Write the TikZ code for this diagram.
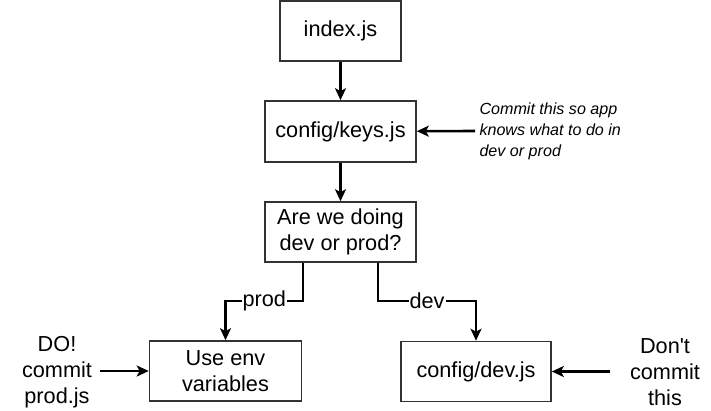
\documentclass[tikz,border=0pt]{standalone}
\usepackage{fontspec}
\setmainfont{Liberation Sans}[Ligatures=TeXOff]
\usetikzlibrary{arrows.meta}

\begin{document}
\begin{tikzpicture}[x=1pt,y=-1pt,
  box/.style={draw=black!80,line width=1.6pt,align=center,inner sep=0pt,
    font=\fontsize{21.7}{26}\selectfont},
  flow/.style={-{Stealth[length=12pt,width=11pt,inset=3pt]},line width=2.6pt},
  lbl/.style={fill=white,inner sep=1pt,font=\fontsize{21.7}{26}\selectfont},
  note/.style={align=center,font=\fontsize{21.7}{26}\selectfont}]
\useasboundingbox (0,0) rectangle (711,410);

\node[box,minimum width=121pt,minimum height=60pt] (index) at (340.5,31) {index.js};
\node[box,minimum width=151pt,minimum height=61pt] (keys) at (340.5,131.5) {config/keys.js};
\node[box,minimum width=151pt,minimum height=60pt] (question) at (340.5,232) {Are we doing\\dev or prod?};
\node[box,minimum width=152pt,minimum height=60pt] (env) at (225.5,371) {Use env\\variables};
\node[box,minimum width=150pt,minimum height=60pt] (devjs) at (476,371.5) {config/dev.js};

\node[note] (doit) at (57,372) {DO!\\commit\\prod.js};
\node[note] (dont) at (665,372) {Don't\\commit\\this};
\node[anchor=west,align=left,font=\fontsize{16.1}{21}\selectfont\itshape] (why) at (476,131) {Commit this so app\\knows what to do in\\dev or prod};

\coordinate (whyend) at (475,131);
\coordinate (doend) at (100,371);
\coordinate (dontend) at (610,371.5);

\draw[flow] (index) -- (keys);
\draw[flow] (keys) -- (question);
\draw[flow] ([xshift=-37.5pt]question.south) |- (225.5,301) node[lbl,pos=0.75] {prod} -- (env);
\draw[flow] ([xshift=37.5pt]question.south) |- (476,301) node[lbl,pos=0.75] {dev} -- (devjs);

\draw[flow] (whyend) -- (keys);
\draw[flow] (doend) -- (env);
\draw[flow] (dontend) -- (devjs);
\end{tikzpicture}
\end{document}
